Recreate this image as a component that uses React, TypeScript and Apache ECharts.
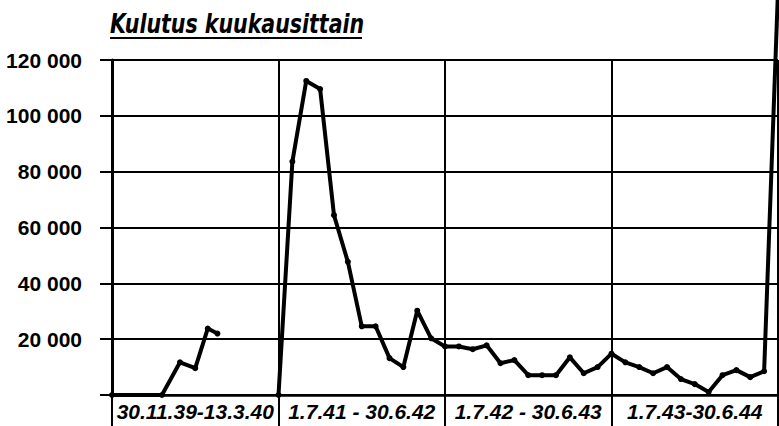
import React, { useEffect, useRef } from "react";
import * as echarts from "echarts";

const titleText = "Kulutus kuukausittain";
const periodLabels = ["30.11.39-13.3.40", "1.7.41 - 30.6.42", "1.7.42 - 30.6.43", "1.7.43-30.6.44"];
const yTicks = [0, 20000, 40000, 60000, 80000, 100000, 120000];

// Winter war: month position on the chart's time scale, and consumption
const winterMonths = [0, 3.6, 4.9, 6.0, 6.9, 7.6];
const winterValues = [0, 0, 11700, 9600, 23800, 22000];

// Continuation war: monthly consumption, starting at month 12 (1.7.41)
const warStartMonth = 12;
const warValues = [
  0, 83600, 112500, 109600, 64400, 47700, 24600, 24600, 13200, 10000, 30200, 20300, 17400,
  17400, 16400, 17800, 11400, 12500, 7100, 7100, 7100, 13500, 7800, 10000, 14800,
  11700, 10000, 7800, 10000, 5700, 3900, 1100, 7100, 8900, 6400, 8500, 145000,
];

const fmt = (v: number) => {
  if (v === 0) return "";
  const s = String(v);
  return s.slice(0, s.length - 3) + " " + s.slice(-3);
};

export default function App() {
  const ref = useRef<HTMLDivElement>(null);
  useEffect(() => {
    if (!ref.current) return;
    const chart = echarts.init(ref.current, null, { renderer: "svg" });
    const winterData = winterMonths.map((m, i) => [m, winterValues[i]]);
    const warData = warValues.map((v, i) => [warStartMonth + i, v]);
    const lineStyle = { color: "#000", width: 4 };
    chart.setOption({
      animation: false,
      backgroundColor: "#fff",
      grid: { left: 112, right: 1, top: 60, bottom: 31 },
      graphic: [
        {
          type: "text",
          x: 110,
          y: 11,
          scaleX: 0.79,
          style: {
            text: titleText,
            font: 'italic bold 26px "DejaVu Sans"',
            fill: "#000",
          },
        },
        {
          type: "line",
          shape: { x1: 110, y1: 38, x2: 362, y2: 38 },
          style: { stroke: "#000", lineWidth: 2 },
        },
      ],
      xAxis: [
        { type: "value", min: 0, max: 48, show: false },
        {
          type: "category",
          data: periodLabels,
          position: "bottom",
          boundaryGap: true,
          axisLine: { show: true, lineStyle: { color: "#000", width: 2.5 } },
          axisTick: { show: true, interval: 0, length: 31, lineStyle: { color: "#000", width: 2 } },
          splitLine: { show: true, interval: 0, lineStyle: { color: "#000", width: 2 } },
          axisLabel: {
            interval: 0,
            margin: 6,
            color: "#000",
            fontFamily: "Liberation Sans",
            fontStyle: "italic",
            fontWeight: "bold",
            fontSize: 21,
          },
        },
      ],
      yAxis: {
        type: "value",
        min: 0,
        max: 120000,
        interval: 20000,
        axisLine: { show: true, lineStyle: { color: "#000", width: 3 } },
        axisTick: { show: true, length: 12, lineStyle: { color: "#000", width: 2 } },
        splitLine: { show: true, lineStyle: { color: "#000", width: 2 } },
        axisLabel: {
          margin: 30,
          color: "#000",
          fontFamily: "Liberation Sans",
          fontWeight: "bold",
          fontSize: 21,
          formatter: (v: number) => (yTicks.includes(v) ? fmt(v) : ""),
        },
      },
      series: [
        {
          type: "line",
          xAxisIndex: 0,
          data: winterData,
          symbol: "circle",
          symbolSize: 6,
          itemStyle: { color: "#000" },
          lineStyle,
          clip: false,
        },
        {
          type: "line",
          xAxisIndex: 0,
          data: warData,
          symbol: "circle",
          symbolSize: 6,
          itemStyle: { color: "#000" },
          lineStyle,
          clip: false,
        },
      ],
    });
    return () => chart.dispose();
  }, []);
  return (
    <div
      ref={ref}
      style={{ position: "absolute", left: 0, top: 0, width: 779, height: 426 }}
    />
  );
}
